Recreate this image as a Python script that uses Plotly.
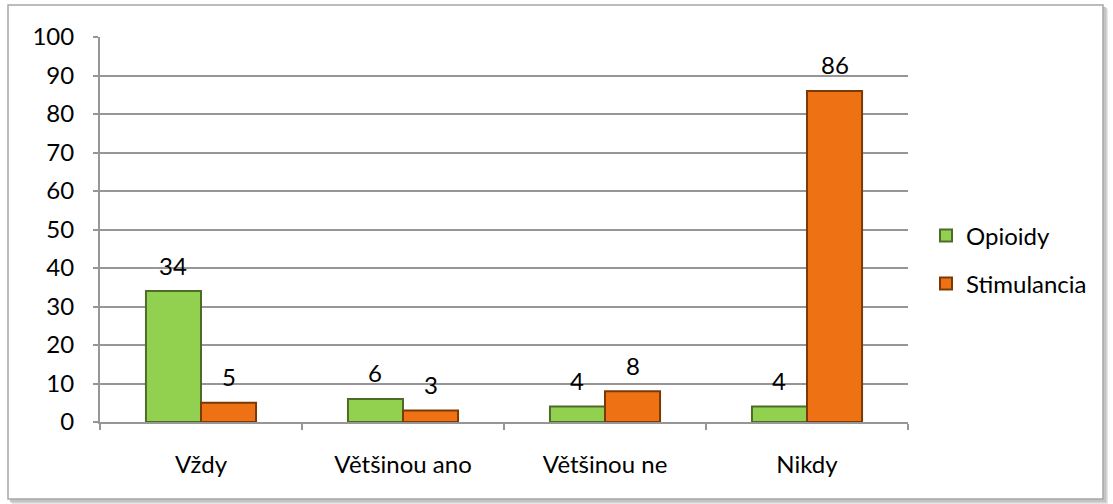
import plotly.graph_objects as go

# Survey answers per category
categories = ["Vždy", "Většinou ano", "Většinou ne", "Nikdy"]
opioidy = [34, 6, 4, 4]
stimulancia = [5, 3, 8, 86]
y_ticks = [0, 10, 20, 30, 40, 50, 60, 70, 80, 90, 100]

W, H = 1113, 504
FONT = "Lato, 'Open Sans', sans-serif"
TXT = dict(family=FONT, size=24, color="#000000")

fig = go.Figure()
fig.add_trace(go.Bar(
    x=categories, y=opioidy, name="Opioidy",
    marker=dict(color="#92D050", line=dict(color="#4F6B2A", width=2)),
    hoverinfo="x+y", legend="legend",
))
fig.add_trace(go.Bar(
    x=categories, y=stimulancia, name="Stimulancia",
    marker=dict(color="#EE7214", line=dict(color="#7A3A05", width=2)),
    hoverinfo="x+y", legend="legend2",
))

# plot-area geometry (pixels)
ml, mr, mt, mb = 100, 205, 37, 82
pw, ph = W - ml - mr, H - mt - mb
bargap = 0.455
bar_px = pw / len(categories) * (1 - bargap) / 2

# value labels above each bar, anchored at the bar value in data coordinates
annotations = []
for vals, side in ((opioidy, -0.5), (stimulancia, 0.5)):
    for cat, v in zip(categories, vals):
        annotations.append(dict(
            x=cat, y=v, xref="x", yref="y", text=str(v), showarrow=False,
            xshift=side * bar_px, yshift=26, yanchor="middle", xanchor="center",
            font=TXT,
        ))


def px(x):
    return (x - ml) / pw


def py(y):
    return (H - mb - y) / ph


# chart frame with soft shadow
shapes = []
for i, c in enumerate(["#e6e6e6", "#d4d4d4", "#c4c4c4"]):
    o = 4 - i
    shapes.append(dict(type="rect", xref="paper", yref="paper",
                       x0=px(8 + o), x1=px(1104 + o), y0=py(500 + o), y1=py(5 + o),
                       line=dict(width=0), fillcolor=c, layer="below"))
shapes.append(dict(type="rect", xref="paper", yref="paper",
                   x0=px(8), x1=px(1103), y0=py(499), y1=py(5),
                   line=dict(color="#a6a6a6", width=1.5), fillcolor="white", layer="below"))

fig.update_layout(
    width=W, height=H,
    margin=dict(l=ml, r=mr, t=mt, b=mb),
    paper_bgcolor="white", plot_bgcolor="rgba(0,0,0,0)",
    barmode="group", bargap=bargap, bargroupgap=0,
    font=TXT,
    shapes=shapes,
    annotations=annotations,
    showlegend=True,
    legend=dict(x=px(926), y=py(236), yanchor="middle", xanchor="left",
                bgcolor="rgba(0,0,0,0)", font=TXT),
    legend2=dict(x=px(926), y=py(284), yanchor="middle", xanchor="left",
                 bgcolor="rgba(0,0,0,0)", font=TXT),
    xaxis=dict(showline=True, linecolor="#969696", linewidth=2,
               ticks="outside", tickson="boundaries", ticklen=6, tickwidth=2,
               tickcolor="#969696", tickfont=TXT, ticklabelstandoff=20,
               showgrid=False, fixedrange=True),
    yaxis=dict(range=[0, 100], tickvals=y_ticks, showline=True, linecolor="#969696",
               linewidth=2, ticks="outside", ticklen=5, tickwidth=2, tickcolor="#969696",
               showgrid=True, gridcolor="#969696", gridwidth=1.5, zeroline=False,
               tickfont=TXT, ticklabelstandoff=14, fixedrange=True),
)

fig.write_html("out.html")
